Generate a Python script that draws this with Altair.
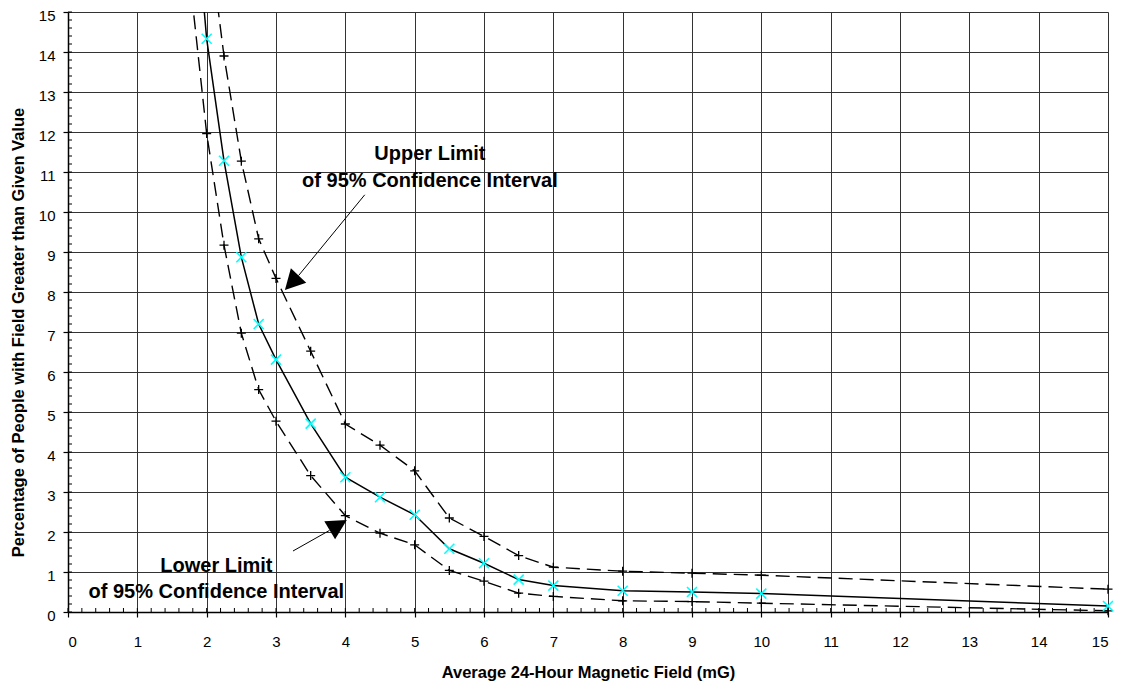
import altair as alt
import pandas as pd

# ---- data ----
field_mid = [1.75, 2, 2.25, 2.5, 2.75, 3, 3.5, 4, 4.5, 5, 5.5, 6, 6.5, 7, 8, 9, 10, 15]
pct_mid = [19.3, 14.33, 11.28, 8.87, 7.2, 6.31, 4.71, 3.37, 2.87, 2.43, 1.58, 1.22, 0.81, 0.66, 0.53, 0.5, 0.46, 0.15]

field_upper = [2, 2.25, 2.5, 2.75, 3, 3.5, 4, 4.5, 5, 5.5, 6, 6.5, 7, 8, 9, 10, 15]
pct_upper = [17.3, 13.9, 11.27, 9.33, 8.34, 6.52, 4.7, 4.17, 3.53, 2.35, 1.89, 1.41, 1.12, 1.02, 0.97, 0.92, 0.57]

field_lower = [1.75, 2, 2.25, 2.5, 2.75, 3, 3.5, 4, 4.5, 5, 5.5, 6, 6.5, 7, 8, 9, 10, 15]
pct_lower = [15.96, 11.96, 9.17, 6.97, 5.56, 4.77, 3.41, 2.41, 1.97, 1.68, 1.04, 0.77, 0.47, 0.39, 0.28, 0.26, 0.22, 0.03]

x_ticks = list(range(0, 16))
y_ticks = list(range(0, 16))
minor_ticks = [round(i * 0.2, 1) for i in range(76)]

note_text = ["Upper Limit", "of 95% Confidence Interval", "Lower Limit", "of 95% Confidence Interval"]
note_x = [5.22, 5.22, 2.14, 2.14]
note_y = [11.3, 10.625, 1.0, 0.35]

arrow_x1 = [4.28, 3.245]
arrow_y1 = [10.43, 1.525]
arrow_x2 = [3.325, 3.772]
arrow_y2 = [8.41, 2.04]
head_x = [3.227, 3.898]
head_y = [8.23, 2.17]
head_angle = [223, 59]

x_title = "Average 24-Hour Magnetic Field (mG)"
y_title = "Percentage of People with Field Greater than Given Value"

# ---- tables ----
mid = pd.DataFrame({"x": field_mid, "y": pct_mid})
upper = pd.DataFrame({"x": field_upper, "y": pct_upper})
lower = pd.DataFrame({"x": field_lower, "y": pct_lower})
notes = pd.DataFrame({"x": note_x, "y": note_y, "t": note_text})
arrows = pd.DataFrame({"x": arrow_x1, "y": arrow_y1, "x2": arrow_x2, "y2": arrow_y2})
heads = pd.DataFrame({"x": head_x, "y": head_y, "a": head_angle})
minor = pd.DataFrame({"v": minor_ticks})

W, H = 1040, 600
FONT = "Liberation Sans"
xs = alt.Scale(domain=[0, 15], nice=False, zero=False)
ys = alt.Scale(domain=[0, 15], nice=False, zero=False)

X_noax = alt.X("x:Q", scale=xs, axis=None)
Y_noax = alt.Y("y:Q", scale=ys, axis=None)

main_x_axis = alt.Axis(
    values=x_ticks, orient="bottom", grid=True, gridColor="#333", gridWidth=1,
    domain=True, domainColor="#000", domainWidth=1.5,
    ticks=True, tickSize=5, tickColor="#000", tickWidth=1.2,
    labelFont=FONT, labelFontSize=15, labelColor="#000", labelPadding=17,
    labelBaseline="top", format="d",
    title=x_title, titleFont=FONT, titleFontSize=16.5, titleFontWeight="bold",
    titleColor="#000", titleY=65, titleBaseline="alphabetic",
)
main_y_axis = alt.Axis(
    values=y_ticks, orient="left", grid=True, gridColor="#333", gridWidth=1,
    domain=True, domainColor="#000", domainWidth=1.5,
    ticks=True, tickSize=5, tickColor="#000", tickWidth=1.2,
    labelFont=FONT, labelFontSize=15, labelColor="#000", labelPadding=8,
    labelBaseline="middle", labelOffset=3, format="d",
    title=y_title, titleFont=FONT, titleFontSize=16.5, titleFontWeight="bold",
    titleColor="#000", titleAngle=270, titleX=-45, titleY=320,
    titleBaseline="alphabetic", titleAlign="center",
)

PLUS = "M-1,0L1,0M0,-1L0,1"
CROSS = "M-1,-1L1,1M-1,1L1,-1"
TRI = "M0,-1L1.05,1L-1.05,1Z"

axes_layer = alt.Chart(mid).mark_line(color="#000", strokeWidth=1.5, clip=True).encode(
    x=alt.X("x:Q", scale=xs, axis=main_x_axis),
    y=alt.Y("y:Q", scale=ys, axis=main_y_axis),
)

# minor tick marks along both axes (inside the plot, 4 px long)
minor_x = alt.Chart(minor).mark_rule(color="#000", strokeWidth=1).encode(
    x=alt.X("v:Q", scale=xs, axis=None), y=alt.value(H), y2=alt.value(H - 4))
minor_y = alt.Chart(minor).mark_rule(color="#000", strokeWidth=1).encode(
    y=alt.Y("v:Q", scale=ys, axis=None), x=alt.value(0), x2=alt.value(4))

dash = [14, 7]
upper_line = alt.Chart(upper).mark_line(color="#000", strokeWidth=1.4, strokeDash=dash, clip=True).encode(
    x=X_noax, y=Y_noax)
lower_line = alt.Chart(lower).mark_line(color="#000", strokeWidth=1.4, strokeDash=dash, clip=True).encode(
    x=X_noax, y=Y_noax)

upper_pts = alt.Chart(upper).transform_filter(alt.datum.y <= 15).mark_point(
    shape=PLUS, size=81, filled=False, color="#000", strokeWidth=1.3, opacity=1
).encode(x=X_noax, y=Y_noax)
lower_pts = alt.Chart(lower).transform_filter(alt.datum.y <= 15).mark_point(
    shape=PLUS, size=81, filled=False, color="#000", strokeWidth=1.3, opacity=1
).encode(x=X_noax, y=Y_noax)
mid_pts = alt.Chart(mid).transform_filter(alt.datum.y <= 15).mark_point(
    shape=CROSS, size=100, filled=False, color="#00FFFF", strokeWidth=1.6, opacity=1
).encode(x=X_noax, y=Y_noax)

arrow_lines = alt.Chart(arrows).mark_rule(color="#000", strokeWidth=1).encode(
    x=X_noax, y=Y_noax, x2="x2:Q", y2="y2:Q")
arrow_heads = alt.Chart(heads).mark_point(
    shape=TRI, size=400, filled=True, color="#000", opacity=1
).encode(x=X_noax, y=Y_noax, angle=alt.Angle("a:Q", scale=None))

texts = alt.Chart(notes).mark_text(
    font=FONT, fontSize=20, fontWeight="bold", color="#000",
    align="center", baseline="alphabetic"
).encode(x=X_noax, y=Y_noax, text="t:N")

chart = alt.layer(
    axes_layer, minor_x, minor_y, upper_line, lower_line,
    upper_pts, lower_pts, mid_pts, arrow_lines, arrow_heads, texts,
).resolve_axis(x="independent", y="independent").properties(
    width=W, height=H,
    autosize=alt.AutoSizeParams(type="none"),
    padding={"left": 60, "top": 4, "right": 8, "bottom": 71},
).configure_view(stroke="#333", strokeWidth=1).configure(background="white")

chart.save("out.html", embed_options={"renderer": "svg", "actions": False})
